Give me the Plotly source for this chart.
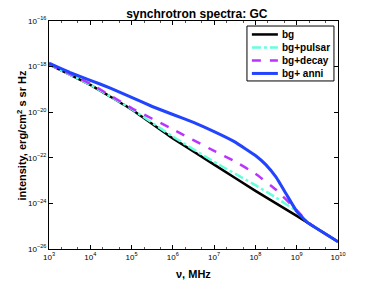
import plotly.graph_objects as go

# Frequencies (MHz) and intensities (erg/cm^2 s sr Hz)
freq_bg = [1e3, 1e4, 1e5, 1e6, 1e7, 1e8, 1e9, 1e10]
int_bg = [1.26e-18, 1.58e-19, 1.32e-20, 7.1e-22, 5.0e-23, 3.55e-24, 2.82e-25, 2.09e-26]

freq_pulsar = [1e3, 1e4, 1e5, 1e6, 1e7, 1e8, 3.16e8, 1e9, 2.0e9, 1e10]
int_pulsar = [1.26e-18, 1.58e-19, 1.38e-20, 8.5e-22, 6.6e-23, 6.3e-24, 1.78e-24, 4.47e-25, 1.35e-25, 2.09e-26]

freq_decay = [1e3, 1e4, 1e5, 1e6, 1e7, 3.16e7, 1e8, 3.16e8, 1e9, 2.0e9, 1e10]
int_decay = [1.26e-18, 1.78e-19, 1.51e-20, 1.78e-21, 2.0e-22, 7.08e-23, 2.0e-23, 3.98e-24, 5.01e-25, 1.35e-25, 2.09e-26]

freq_anni = [1e3, 3.16e3, 1e4, 3.16e4, 1e5, 3.16e5, 1e6, 3.16e6, 1e7, 3.16e7,
             1e8, 1.78e8, 3.16e8, 5.62e8, 1e9, 1.78e9, 1e10]
int_anni = [1.41e-18, 5.62e-19, 2.51e-19, 1.12e-19, 4.47e-20, 1.78e-20, 7.94e-21, 3.55e-21,
            1.41e-21, 5.01e-22, 1.26e-22, 5.01e-23, 1.41e-23, 2.51e-24, 4.47e-25, 1.51e-25, 2.09e-26]

series_names = ["bg", "bg+pulsar", "bg+decay", "bg+ anni"]
series_colors = ["black", "#66FFDD", "#BB33FF", "#2244FF"]
series_dash = ["solid", "dashdot", "dash", "solid"]
series_width = [2.5, 2.5, 2.5, 3]

x_ticks = [1e3, 1e4, 1e5, 1e6, 1e7, 1e8, 1e9, 1e10]
x_ticklabels = ["10<sup>3</sup>", "10<sup>4</sup>", "10<sup>5</sup>", "10<sup>6</sup>",
                "10<sup>7</sup>", "10<sup>8</sup>", "10<sup>9</sup>", "10<sup>10</sup>"]
y_ticks = [1e-26, 1e-24, 1e-22, 1e-20, 1e-18, 1e-16]
y_ticklabels = ["10<sup>−26</sup>", "10<sup>−24</sup>", "10<sup>−22</sup>",
                "10<sup>−20</sup>", "10<sup>−18</sup>", "10<sup>−16</sup>"]

series = [(freq_bg, int_bg), (freq_pulsar, int_pulsar), (freq_decay, int_decay), (freq_anni, int_anni)]

fig = go.Figure()
for (fx, iy), name, col, dsh, w in zip(series, series_names, series_colors, series_dash, series_width):
    fig.add_trace(go.Scatter(x=fx, y=iy, mode="lines", name=name, showlegend=False,
                             line=dict(color=col, width=w, dash=dsh, shape="spline", smoothing=0.3)))

# compact MATLAB-style legend box (paper coordinates)
legend_box = dict(x0=0.685, x1=0.986, y0=0.737, y1=0.978)
legend_rows = [0.941, 0.884, 0.827, 0.770]
shapes = [dict(type="rect", xref="paper", yref="paper", line=dict(color="black", width=1),
               fillcolor="white", layer="above", **legend_box)]
annotations = []
for yrow, name, col, dsh, w in zip(legend_rows, series_names, series_colors, series_dash, series_width):
    shapes.append(dict(type="line", xref="paper", yref="paper", x0=0.702, x1=0.792, y0=yrow, y1=yrow,
                       line=dict(color=col, width=w, dash=dsh), layer="above"))
    annotations.append(dict(text="<b>%s</b>" % name, xref="paper", yref="paper", x=0.800, y=yrow,
                            xanchor="left", yanchor="middle", showarrow=False,
                            font=dict(family="Liberation Sans, Arial", size=10, color="black")))

annotations += [
    dict(text="<b>ν, MHz</b>", xref="paper", yref="paper", x=0.5, y=-0.075,
         xanchor="center", yanchor="top", showarrow=False,
         font=dict(family="Liberation Sans, Arial", size=11, color="black")),
    dict(text="<b>intensity, erg/cm<sup>2</sup> s sr Hz</b>", xref="paper", yref="paper",
         x=-0.095, y=0.5, xanchor="center", yanchor="middle", textangle=-90, showarrow=False,
         font=dict(family="Liberation Sans, Arial", size=11, color="black")),
]

tickfont = dict(family="Liberation Sans, Arial", size=8, color="black")
# the page body adds an 8px offset, so the figure is 8px smaller than the window
fig.update_layout(
    width=366, height=273,
    margin=dict(l=41, r=36, t=13, b=32, autoexpand=False),
    paper_bgcolor="white", plot_bgcolor="white",
    showlegend=False,
    title=dict(text="<b>synchrotron spectra: GC</b>", x=0.516, xanchor="center",
               y=0.995, yanchor="top",
               font=dict(family="Liberation Sans, Arial", size=12, color="black")),
    xaxis=dict(type="log", range=[3, 10], tickvals=x_ticks, ticktext=x_ticklabels,
               automargin=False,
               showline=True, linecolor="black", linewidth=1, mirror="allticks",
               ticks="inside", ticklen=4, tickcolor="black", showgrid=False, zeroline=False,
               tickfont=tickfont,
               minor=dict(ticks="inside", ticklen=2, tickcolor="#555", showgrid=False)),
    yaxis=dict(type="log", range=[-26, -16], tickvals=y_ticks, ticktext=y_ticklabels,
               automargin=False,
               showline=True, linecolor="black", linewidth=1, mirror="allticks",
               ticks="inside", ticklen=4, tickcolor="black", showgrid=False, zeroline=False,
               tickfont=tickfont),
    shapes=shapes,
    annotations=annotations,
)

fig.write_html("out.html")
